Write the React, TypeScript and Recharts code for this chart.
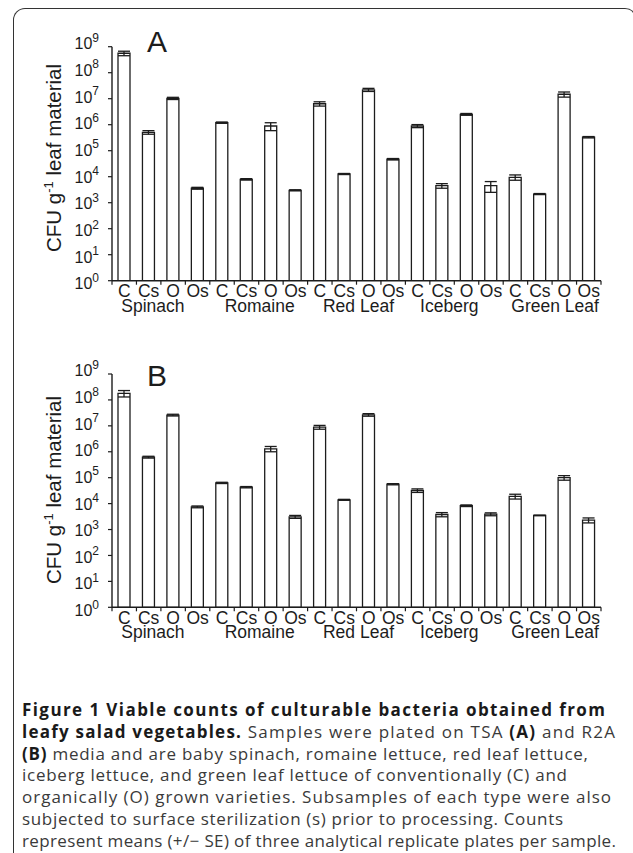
import React from 'react';
import { BarChart, Bar, XAxis, YAxis, ErrorBar } from 'recharts';

// ---------- data ----------
const treatments = ['C', 'Cs', 'O', 'Os'];
const vegetables = ['Spinach', 'Romaine', 'Red Leaf', 'Iceberg', 'Green Leaf'];

// Panel A (TSA) means and SE, CFU per g leaf material
const tsaMeans = [5.6e8, 5.1e5, 1.03e7, 3.6e3, 1.2e6, 7.9e3, 8.9e5, 3.0e3, 6.4e6, 1.27e4, 2.2e7, 4.7e4, 8.9e5, 4.5e3, 2.5e6, 4.5e3, 9.5e3, 2.15e3, 1.48e7, 3.3e5];
const tsaSE = [1.1e8, 0.8e5, 1.0e6, 3e2, 0.7e5, 5e2, 3e5, 1.5e2, 1.2e6, 6e2, 3e6, 3e3, 1.2e5, 9e2, 2e5, 2e3, 2.2e3, 1e2, 3.3e6, 2e4];

// Panel B (R2A) means and SE
const r2aMeans = [1.8e8, 6.2e5, 2.6e7, 7.5e3, 6.3e4, 4.3e4, 1.3e6, 3.1e3, 8.9e6, 1.4e4, 2.65e7, 5.6e4, 3.2e4, 3.8e3, 8.3e3, 3.9e3, 1.9e4, 3.5e3, 1.0e5, 2.3e3];
const r2aSE = [5e7, 5e4, 2e6, 6e2, 3.5e3, 2.5e3, 3e5, 4e2, 1.5e6, 6e2, 3e6, 3e3, 5e3, 7e2, 6e2, 5e2, 4e3, 1e2, 2e4, 5e2];

const yTicks = [1, 1e1, 1e2, 1e3, 1e4, 1e5, 1e6, 1e7, 1e8, 1e9];

// ---------- layout ----------
const W = 633;
const PLOT_LEFT = 112;
const PLOT_RIGHT = 601;
const N = vegetables.length * treatments.length;
const BW = (PLOT_RIGHT - PLOT_LEFT) / N;
const GROUP_DX = [-8, 1, 2, -5, 3];
const INK = '#1c1c1c';
const FONT = '"Liberation Sans", Arial, Helvetica, sans-serif';

function buildRows(means: number[], se: number[]) {
  return vegetables.flatMap((v, g) =>
    treatments.map((t, i) => ({
      key: `${v}-${t}`,
      mean: means[g * 4 + i],
      se: se[g * 4 + i],
    }))
  );
}

const YTick = (props: any) => {
  const { x, y, payload } = props;
  const e = Math.round(Math.log10(payload.value));
  const off = (4.5 - e) * 0.7;
  return (
    <text x={x} y={y + off + 5.6} textAnchor="end" fontSize={16} fill={INK} fontFamily={FONT}>
      10<tspan dy={-7.5} fontSize={12}>{e}</tspan>
    </text>
  );
};

const XTick = (props: any) => {
  const { x, y, index } = props;
  const label = treatments[index % 4];
  const g = Math.floor(index / 4);
  return (
    <g>
      <line x1={x - BW / 2} x2={x - BW / 2} y1={y} y2={y + 4} stroke={INK} strokeWidth={1.2} />
      {index === N - 1 && (
        <line x1={x + BW / 2} x2={x + BW / 2} y1={y} y2={y + 4} stroke={INK} strokeWidth={1.2} />
      )}
      <text x={x} y={y + 16.5} textAnchor="middle" fontSize={17.5} fill={INK} fontFamily={FONT}>
        {label}
      </text>
      {index % 4 === 0 && (
        <text
          x={x + 1.5 * BW + GROUP_DX[g]}
          y={y + 31}
          textAnchor="middle"
          fontSize={17.5}
          fill={INK}
          fontFamily={FONT}
        >
          {vegetables[g]}
        </text>
      )}
    </g>
  );
};

type PanelProps = {
  means: number[];
  se: number[];
  letter: string;
  top: number;
  height: number;
  plotTop: number;
  plotBottom: number;
  labelCy: number;
  letterY: number;
};

const Panel = ({ means, se, letter, top, height, plotTop, plotBottom, labelCy, letterY }: PanelProps) => {
  const rows = buildRows(means, se);
  const xAxisH = 45;
  const marginTop = plotTop - top;
  const marginBottom = top + height - plotBottom - xAxisH;
  const cy = labelCy - top;
  const decor = () => (
    <g>
      <text
        x={61}
        y={cy}
        transform={`rotate(-90, 61, ${cy})`}
        textAnchor="middle"
        fontSize={20.5}
        fill={INK}
        fontFamily={FONT}
      >
        CFU g<tspan dy={-8} fontSize={13}>-1</tspan>
        <tspan dy={8}> leaf material</tspan>
      </text>
      <text x={147} y={letterY - top} fontSize={30} fill={INK} fontFamily={FONT}>
        {letter}
      </text>
    </g>
  );
  return (
    <div style={{ position: 'absolute', left: 0, top, width: W, height }}>
      <BarChart
        width={W}
        height={height}
        data={rows}
        margin={{ top: marginTop, right: W - PLOT_RIGHT, bottom: marginBottom, left: 12 }}
        barCategoryGap={0}
      >
        <XAxis
          dataKey="key"
          type="category"
          interval={0}
          height={xAxisH}
          tickLine={false}
          tickSize={0}
          tickMargin={0}
          axisLine={{ stroke: INK, strokeWidth: 1.4 }}
          tick={<XTick />}
        />
        <YAxis
          type="number"
          scale="log"
          domain={[1, 1e9]}
          ticks={yTicks}
          interval={0}
          allowDataOverflow
          width={PLOT_LEFT - 12}
          tickSize={4}
          tickMargin={9}
          tickLine={{ stroke: INK, strokeWidth: 1.2 }}
          axisLine={{ stroke: INK, strokeWidth: 1.4 }}
          tick={<YTick />}
          label={{ content: decor }}
        />
        <Bar
          dataKey="mean"
          fill="#ffffff"
          stroke={INK}
          strokeWidth={1.3}
          barSize={12}
          isAnimationActive={false}
        >
          <ErrorBar dataKey="se" width={6} stroke={INK} strokeWidth={1.3} direction="y" />
        </Bar>
      </BarChart>
    </div>
  );
};

// ---------- caption ----------
type Seg = [string, boolean];
const captionLines: Seg[][] = [
  [['Figure 1 Viable counts of culturable bacteria obtained from', true]],
  [['leafy salad vegetables.', true], [' Samples were plated on TSA ', false], ['(A)', true], [' and R2A', false]],
  [['(B)', true], [' media and are baby spinach, romaine lettuce, red leaf lettuce,', false]],
  [['iceberg lettuce, and green leaf lettuce of conventionally (C) and', false]],
  [['organically (O) grown varieties. Subsamples of each type were also', false]],
  [['subjected to surface sterilization (s) prior to processing. Counts', false]],
  [['represent means (+/\u2212 SE) of three analytical replicate plates per sample.', false]],
];
const captionWidths = [583, 593, 566, 545, 589, 541, 594];
const CAP_X = 22;
const CAP_Y0 = 716;
const CAP_DY = 21.8;

export default function App() {
  return (
    <div style={{ position: 'absolute', left: 0, top: 0, width: W, height: 853, background: '#fff', overflow: 'hidden' }}>
      <div
        style={{
          position: 'absolute',
          left: 13,
          top: 8,
          width: 622,
          height: 900,
          borderTop: '1.5px solid #333',
          borderLeft: '1.5px solid #333',
          borderRight: '1.5px solid #333',
          borderTopLeftRadius: 12,
          borderTopRightRadius: 12,
        }}
      />
      <Panel
        means={tsaMeans}
        se={tsaSE}
        letter="A"
        top={0}
        height={330}
        plotTop={46.7}
        plotBottom={280.7}
        labelCy={158}
        letterY={52.3}
      />
      <Panel
        means={r2aMeans}
        se={r2aSE}
        letter="B"
        top={330}
        height={330}
        plotTop={374}
        plotBottom={607.3}
        labelCy={490}
        letterY={386}
      />
      <svg width={W} height={853} style={{ position: 'absolute', left: 0, top: 0, pointerEvents: 'none' }}>
        {captionLines.map((segs, i) => (
          <text
            key={i}
            x={CAP_X}
            y={CAP_Y0 + i * CAP_DY}
            fontSize={17}
            fontFamily='"Open Sans", "Noto Sans", sans-serif'
            fill="#3a3a3a"
            textLength={captionWidths[i]}
            lengthAdjust="spacing"
          >
            {segs.map(([s, b], j) => (
              <tspan key={j} fontWeight={b ? 700 : 400} fill={b ? '#1a1a1a' : '#3a3a3a'}>
                {s}
              </tspan>
            ))}
          </text>
        ))}
      </svg>
    </div>
  );
}
